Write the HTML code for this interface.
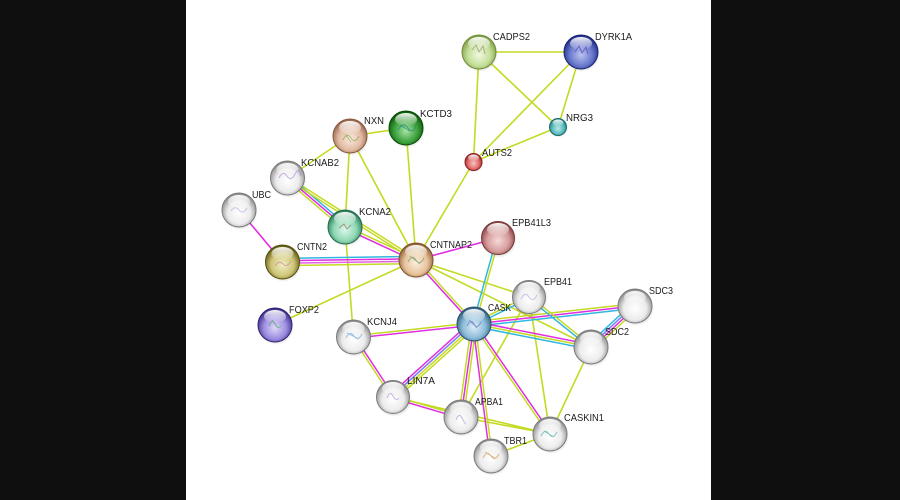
<!DOCTYPE html>
<html><head><meta charset="utf-8"><style>
html,body{margin:0;padding:0;background:#0f0f0f;}
body{width:900px;height:500px;overflow:hidden;position:relative;}
#w{position:absolute;left:186px;top:0;width:525px;height:500px;background:#fff;}
svg{position:absolute;left:0;top:0;}
text{font-family:"Liberation Sans",Arial,sans-serif;font-size:10.5px;fill:#1c1c1c;}
</style></head><body>
<div id="w"></div>
<svg width="900" height="500" viewBox="0 0 900 500" xmlns="http://www.w3.org/2000/svg">
<defs>
<radialGradient id="gLG" cx="0.5" cy="0.58" r="0.56"><stop offset="0" stop-color="#f1f8e2"/><stop offset="0.6" stop-color="#c4df98"/><stop offset="1" stop-color="#7f9c45"/></radialGradient>
<radialGradient id="gNV" cx="0.5" cy="0.58" r="0.56"><stop offset="0" stop-color="#bcc4f2"/><stop offset="0.6" stop-color="#6a78cc"/><stop offset="1" stop-color="#1e2c88"/></radialGradient>
<radialGradient id="gTL" cx="0.5" cy="0.58" r="0.56"><stop offset="0" stop-color="#bdeaea"/><stop offset="0.6" stop-color="#5cbcbc"/><stop offset="1" stop-color="#1e7e80"/></radialGradient>
<radialGradient id="gRD" cx="0.5" cy="0.58" r="0.56"><stop offset="0" stop-color="#f8c4c4"/><stop offset="0.6" stop-color="#e06a6a"/><stop offset="1" stop-color="#9a2424"/></radialGradient>
<radialGradient id="gMV" cx="0.5" cy="0.58" r="0.56"><stop offset="0" stop-color="#f6dada"/><stop offset="0.6" stop-color="#d69c9c"/><stop offset="1" stop-color="#884040"/></radialGradient>
<radialGradient id="gTN" cx="0.5" cy="0.58" r="0.56"><stop offset="0" stop-color="#faeadf"/><stop offset="0.6" stop-color="#e2bca4"/><stop offset="1" stop-color="#966448"/></radialGradient>
<radialGradient id="gGR" cx="0.5" cy="0.58" r="0.56"><stop offset="0" stop-color="#a8e4a8"/><stop offset="0.6" stop-color="#3ea23e"/><stop offset="1" stop-color="#0a5a0a"/></radialGradient>
<radialGradient id="gMT" cx="0.5" cy="0.58" r="0.56"><stop offset="0" stop-color="#dcf7ec"/><stop offset="0.6" stop-color="#8ed8b4"/><stop offset="1" stop-color="#2a7a58"/></radialGradient>
<radialGradient id="gOL" cx="0.5" cy="0.58" r="0.56"><stop offset="0" stop-color="#f2eec6"/><stop offset="0.6" stop-color="#cfc578"/><stop offset="1" stop-color="#5e5810"/></radialGradient>
<radialGradient id="gT2" cx="0.5" cy="0.58" r="0.56"><stop offset="0" stop-color="#fcefe0"/><stop offset="0.6" stop-color="#e8c49c"/><stop offset="1" stop-color="#8e5e34"/></radialGradient>
<radialGradient id="gPU" cx="0.5" cy="0.58" r="0.56"><stop offset="0" stop-color="#e0d8f8"/><stop offset="0.6" stop-color="#9c8ce0"/><stop offset="1" stop-color="#3a2a88"/></radialGradient>
<radialGradient id="gLB" cx="0.5" cy="0.58" r="0.56"><stop offset="0" stop-color="#e0eef7"/><stop offset="0.6" stop-color="#8cbcd8"/><stop offset="1" stop-color="#2e5e7e"/></radialGradient>
<radialGradient id="gWH" cx="0.5" cy="0.58" r="0.56"><stop offset="0" stop-color="#ffffff"/><stop offset="0.6" stop-color="#ececec"/><stop offset="1" stop-color="#8a8a8a"/></radialGradient>
<linearGradient id="hl" x1="0" y1="0" x2="0" y2="1"><stop offset="0" stop-color="#fff" stop-opacity="0.95"/><stop offset="1" stop-color="#fff" stop-opacity="0.05"/></linearGradient>
<radialGradient id="sh" cx="0.5" cy="0.5" r="0.5"><stop offset="0.7" stop-color="#000" stop-opacity="0.18"/><stop offset="1" stop-color="#000" stop-opacity="0"/></radialGradient>
</defs>

<!-- single edges -->
<g stroke-width="1.6" fill="none" stroke="#c4da22">
<line x1="479" y1="52" x2="581" y2="52"/>
<line x1="479" y1="52" x2="558" y2="127"/>
<line x1="479" y1="52" x2="473.5" y2="162"/>
<line x1="581" y1="52" x2="558" y2="127"/>
<line x1="581" y1="52" x2="473.5" y2="162"/>
<line x1="558" y1="127" x2="473.5" y2="162"/>
<line x1="473.5" y1="162" x2="416" y2="260"/>
<line x1="350" y1="136" x2="406" y2="128"/>
<line x1="350" y1="136" x2="287.5" y2="178"/>
<line x1="350" y1="136" x2="345" y2="227"/>
<line x1="350" y1="136" x2="416" y2="260"/>
<line x1="406" y1="128" x2="416" y2="260"/>
<line x1="345" y1="227" x2="353.5" y2="337"/>
<line x1="275" y1="325" x2="416" y2="260"/>
<line x1="416" y1="260" x2="529" y2="297"/>
<line x1="416" y1="260" x2="591" y2="347"/>
<line x1="529" y1="297" x2="461" y2="417"/>
<line x1="529" y1="297" x2="550" y2="434"/>
<line x1="591" y1="347" x2="550" y2="434"/>
<line x1="491" y1="456" x2="550" y2="434"/>
<line x1="393" y1="397" x2="550" y2="434"/>
<line x1="461" y1="417" x2="550" y2="434"/>
<line x1="239" y1="210" x2="282.5" y2="262" stroke="#e02ee0"/>
<line x1="416" y1="260" x2="498" y2="238" stroke="#e02ee0"/>
</g>

<!-- multi edges -->
<g stroke-width="1.5" fill="none">
<g transform="translate(287.5 178) rotate(40.43)"><line x1="0" y1="-2.4" x2="75.5" y2="-2.4" stroke="#30b8e0"/><line x1="0" y1="0" x2="75.5" y2="0" stroke="#e02ee0"/><line x1="0" y1="2.4" x2="75.5" y2="2.4" stroke="#c4da22"/></g>
<g transform="translate(287.5 178) rotate(32.54)"><line x1="0" y1="-1.2" x2="152.4" y2="-1.2" stroke="#c4da22"/><line x1="0" y1="1.2" x2="152.4" y2="1.2" stroke="#c4da22"/></g>
<g transform="translate(345 227) rotate(24.93)"><line x1="0" y1="-1.2" x2="78.3" y2="-1.2" stroke="#c4da22"/><line x1="0" y1="1.4" x2="78.3" y2="1.4" stroke="#e02ee0"/></g>
<g transform="translate(282.5 262) rotate(-0.86)"><line x1="0" y1="-3.6" x2="133.5" y2="-3.6" stroke="#30b8e0"/><line x1="0" y1="-1.2" x2="133.5" y2="-1.2" stroke="#e02ee0"/><line x1="0" y1="1.2" x2="133.5" y2="1.2" stroke="#e860e8"/><line x1="0" y1="3.6" x2="133.5" y2="3.6" stroke="#c4da22"/></g>
<g transform="translate(416 260) rotate(47.8)"><line x1="0" y1="1.2" x2="86.4" y2="1.2" stroke="#e02ee0"/><line x1="0" y1="-1.2" x2="86.4" y2="-1.2" stroke="#c4da22"/></g>
<g transform="translate(498 238) rotate(105.6)"><line x1="0" y1="1.2" x2="89.3" y2="1.2" stroke="#30b8e0"/><line x1="0" y1="-1.2" x2="89.3" y2="-1.2" stroke="#c4da22"/></g>
<g transform="translate(474 324) rotate(-26.15)"><line x1="0" y1="-1.2" x2="61.3" y2="-1.2" stroke="#c4da22"/><line x1="0" y1="1.2" x2="61.3" y2="1.2" stroke="#30b8e0"/></g>
<g transform="translate(474 324) rotate(-6.38)"><line x1="0" y1="-2.4" x2="162" y2="-2.4" stroke="#c4da22"/><line x1="0" y1="0" x2="162" y2="0" stroke="#e02ee0"/><line x1="0" y1="2.4" x2="162" y2="2.4" stroke="#30b8e0"/></g>
<g transform="translate(474 324) rotate(11.12)"><line x1="0" y1="-2.4" x2="119.2" y2="-2.4" stroke="#e02ee0"/><line x1="0" y1="0" x2="119.2" y2="0" stroke="#c4da22"/><line x1="0" y1="2.4" x2="119.2" y2="2.4" stroke="#30b8e0"/></g>
<g transform="translate(529 297) rotate(38.88)"><line x1="0" y1="-1.2" x2="79.6" y2="-1.2" stroke="#c4da22"/><line x1="0" y1="1.2" x2="79.6" y2="1.2" stroke="#30b8e0"/></g>
<g transform="translate(635 306) rotate(137)"><line x1="0" y1="-3.6" x2="60.1" y2="-3.6" stroke="#c4da22"/><line x1="0" y1="-1.2" x2="60.1" y2="-1.2" stroke="#e02ee0"/><line x1="0" y1="1.2" x2="60.1" y2="1.2" stroke="#7a7aff"/><line x1="0" y1="3.6" x2="60.1" y2="3.6" stroke="#30b8e0"/></g>
<g transform="translate(474 324) rotate(55.36)"><line x1="0" y1="-1.2" x2="133.7" y2="-1.2" stroke="#e02ee0"/><line x1="0" y1="1.2" x2="133.7" y2="1.2" stroke="#c4da22"/></g>
<g transform="translate(474 324) rotate(82.66)"><line x1="0" y1="1.2" x2="133.1" y2="1.2" stroke="#e02ee0"/><line x1="0" y1="-1.2" x2="133.1" y2="-1.2" stroke="#c4da22"/></g>
<g transform="translate(474 324) rotate(97.96)"><line x1="0" y1="-2.4" x2="93.9" y2="-2.4" stroke="#c4da22"/><line x1="0" y1="0" x2="93.9" y2="0" stroke="#e02ee0"/><line x1="0" y1="2.4" x2="93.9" y2="2.4" stroke="#c4da22"/></g>
<g transform="translate(474 324) rotate(137.98)"><line x1="0" y1="3.6" x2="109" y2="3.6" stroke="#e02ee0"/><line x1="0" y1="1.2" x2="109" y2="1.2" stroke="#7a7aff"/><line x1="0" y1="-1.2" x2="109" y2="-1.2" stroke="#c4da22"/><line x1="0" y1="-3.6" x2="109" y2="-3.6" stroke="#c4da22"/></g>
<g transform="translate(474 324) rotate(173.84)"><line x1="0" y1="1.2" x2="121.2" y2="1.2" stroke="#c4da22"/><line x1="0" y1="-1.2" x2="121.2" y2="-1.2" stroke="#e02ee0"/></g>
<g transform="translate(353.5 337) rotate(56.64)"><line x1="0" y1="1.2" x2="71.8" y2="1.2" stroke="#c4da22"/><line x1="0" y1="-1.2" x2="71.8" y2="-1.2" stroke="#e02ee0"/></g>
<g transform="translate(393 397) rotate(16.39)"><line x1="0" y1="-1.2" x2="70.9" y2="-1.2" stroke="#c4da22"/><line x1="0" y1="1.2" x2="70.9" y2="1.2" stroke="#e02ee0"/></g>
</g>

<!-- nodes -->
<g id="nodes">
<g transform="translate(479 52)"><circle cx="1" cy="2" r="18" fill="url(#sh)"/><circle r="17" fill="url(#gLG)" stroke="#6f8c3a" stroke-width="1"/><ellipse cx="0" cy="-8.5" rx="11" ry="6.5" fill="url(#hl)"/></g>
<g transform="translate(581 52)"><circle cx="1" cy="2" r="18" fill="url(#sh)"/><circle r="17" fill="url(#gNV)" stroke="#18226e" stroke-width="1"/><ellipse cx="0" cy="-8.5" rx="11" ry="6.5" fill="url(#hl)"/></g>
<g transform="translate(558 127)"><circle cx="0.5" cy="1" r="9.5" fill="url(#sh)"/><circle r="8.5" fill="url(#gTL)" stroke="#1a6a6c" stroke-width="1"/><ellipse cx="0" cy="-4.2" rx="5.5" ry="3.3" fill="url(#hl)"/></g>
<g transform="translate(473.5 162)"><circle cx="0.5" cy="1" r="9.5" fill="url(#sh)"/><circle r="8.5" fill="url(#gRD)" stroke="#8a1e1e" stroke-width="1"/><ellipse cx="0" cy="-4.2" rx="5.5" ry="3.3" fill="url(#hl)"/></g>
<g transform="translate(498 238)"><circle cx="1" cy="2" r="18" fill="url(#sh)"/><circle r="16.5" fill="url(#gMV)" stroke="#763636" stroke-width="1"/><ellipse cx="0" cy="-8.5" rx="11" ry="6.5" fill="url(#hl)"/></g>
<g transform="translate(350 136)"><circle cx="1" cy="2" r="18" fill="url(#sh)"/><circle r="17" fill="url(#gTN)" stroke="#86583c" stroke-width="1"/><ellipse cx="0" cy="-8.5" rx="11" ry="6.5" fill="url(#hl)"/></g>
<g transform="translate(406 128)"><circle cx="1" cy="2" r="18" fill="url(#sh)"/><circle r="17" fill="url(#gGR)" stroke="#084a08" stroke-width="1"/><ellipse cx="0" cy="-8.5" rx="11" ry="6.5" fill="url(#hl)"/></g>
<g transform="translate(287.5 178)"><circle cx="1" cy="2" r="18" fill="url(#sh)"/><circle r="17" fill="url(#gWH)" stroke="#7a7a7a" stroke-width="1"/><ellipse cx="0" cy="-8.5" rx="11" ry="6.5" fill="url(#hl)"/></g>
<g transform="translate(239 210)"><circle cx="1" cy="2" r="18" fill="url(#sh)"/><circle r="17" fill="url(#gWH)" stroke="#7a7a7a" stroke-width="1"/><ellipse cx="0" cy="-8.5" rx="11" ry="6.5" fill="url(#hl)"/></g>
<g transform="translate(345 227)"><circle cx="1" cy="2" r="18" fill="url(#sh)"/><circle r="17" fill="url(#gMT)" stroke="#236a4c" stroke-width="1"/><ellipse cx="0" cy="-8.5" rx="11" ry="6.5" fill="url(#hl)"/></g>
<g transform="translate(282.5 262)"><circle cx="1" cy="2" r="18" fill="url(#sh)"/><circle r="17" fill="url(#gOL)" stroke="#55500c" stroke-width="1"/><ellipse cx="0" cy="-8.5" rx="11" ry="6.5" fill="url(#hl)"/></g>
<g transform="translate(416 260)"><circle cx="1" cy="2" r="18" fill="url(#sh)"/><circle r="17" fill="url(#gT2)" stroke="#7e5230" stroke-width="1"/><ellipse cx="0" cy="-8.5" rx="11" ry="6.5" fill="url(#hl)"/></g>
<g transform="translate(275 325)"><circle cx="1" cy="2" r="18" fill="url(#sh)"/><circle r="17" fill="url(#gPU)" stroke="#30226e" stroke-width="1"/><ellipse cx="0" cy="-8.5" rx="11" ry="6.5" fill="url(#hl)"/></g>
<g transform="translate(353.5 337)"><circle cx="1" cy="2" r="18" fill="url(#sh)"/><circle r="17" fill="url(#gWH)" stroke="#7a7a7a" stroke-width="1"/><ellipse cx="0" cy="-8.5" rx="11" ry="6.5" fill="url(#hl)"/></g>
<g transform="translate(393 397)"><circle cx="1" cy="2" r="18" fill="url(#sh)"/><circle r="16.5" fill="url(#gWH)" stroke="#7a7a7a" stroke-width="1"/><ellipse cx="0" cy="-8.5" rx="11" ry="6.5" fill="url(#hl)"/></g>
<g transform="translate(474 324)"><circle cx="1" cy="2" r="18" fill="url(#sh)"/><circle r="17" fill="url(#gLB)" stroke="#28506c" stroke-width="1"/><ellipse cx="0" cy="-8.5" rx="11" ry="6.5" fill="url(#hl)"/></g>
<g transform="translate(529 297)"><circle cx="1" cy="2" r="18" fill="url(#sh)"/><circle r="16.5" fill="url(#gWH)" stroke="#7a7a7a" stroke-width="1"/><ellipse cx="0" cy="-8.5" rx="11" ry="6.5" fill="url(#hl)"/></g>
<g transform="translate(635 306)"><circle cx="1" cy="2" r="18" fill="url(#sh)"/><circle r="17" fill="url(#gWH)" stroke="#7a7a7a" stroke-width="1"/><ellipse cx="0" cy="-8.5" rx="11" ry="6.5" fill="url(#hl)"/></g>
<g transform="translate(591 347)"><circle cx="1" cy="2" r="18" fill="url(#sh)"/><circle r="17" fill="url(#gWH)" stroke="#7a7a7a" stroke-width="1"/><ellipse cx="0" cy="-8.5" rx="11" ry="6.5" fill="url(#hl)"/></g>
<g transform="translate(461 417)"><circle cx="1" cy="2" r="18" fill="url(#sh)"/><circle r="17" fill="url(#gWH)" stroke="#7a7a7a" stroke-width="1"/><ellipse cx="0" cy="-8.5" rx="11" ry="6.5" fill="url(#hl)"/></g>
<g transform="translate(550 434)"><circle cx="1" cy="2" r="18" fill="url(#sh)"/><circle r="17" fill="url(#gWH)" stroke="#7a7a7a" stroke-width="1"/><ellipse cx="0" cy="-8.5" rx="11" ry="6.5" fill="url(#hl)"/></g>
<g transform="translate(491 456)"><circle cx="1" cy="2" r="18" fill="url(#sh)"/><circle r="17" fill="url(#gWH)" stroke="#7a7a7a" stroke-width="1"/><ellipse cx="0" cy="-8.5" rx="11" ry="6.5" fill="url(#hl)"/></g>
</g>

<!-- faint structure scribbles -->
<g fill="none" stroke-width="1" opacity="0.55">
<path d="M472 50 l4 -5 l3 7 l4 -6 l2 8" stroke="#8a7a60"/>
<path d="M575 52 l4 -6 l3 7 l4 -6 l2 7" stroke="#4030a0"/>
<path d="M343 140 q4 -8 8 -2 t8 -2 M345 134 l6 8" stroke="#6a9a30"/>
<path d="M398 130 q5 -9 10 -2 t8 -3 M400 125 l10 6" stroke="#0a7a7a"/>
<path d="M279 178 q4 -8 8 -2 t8 -2 t6 2" stroke="#a070d8"/>
<path d="M231 211 q4 -6 8 -1 t8 -2" stroke="#b090e0"/>
<path d="M339 228 l5 -4 l3 5 l4 -4" stroke="#8a5a30"/>
<path d="M275 266 q4 -6 8 -2 t8 -3" stroke="#c07090"/>
<path d="M408 262 q4 -8 8 -2 t8 -2 M410 256 l10 8" stroke="#4a8a50"/>
<path d="M269 326 q3 -8 6 -2 t6 2 M272 320 l6 8" stroke="#30a050"/>
<path d="M346 338 q4 -8 8 -2 t8 -2 M347 333 l12 6" stroke="#5a9ad0"/>
<path d="M387 398 q3 -8 6 -2 t6 2" stroke="#a080d0"/>
<path d="M467 326 q4 -8 7 -2 t7 -2 M469 320 l8 8" stroke="#5060c0"/>
<path d="M521 299 q4 -8 8 -2 t8 -2" stroke="#b090e0"/>
<path d="M456 420 q3 -8 6 -2 t4 6" stroke="#a080d0"/>
<path d="M541 436 q4 -8 8 -2 t8 -2 M544 431 l10 6" stroke="#30a090"/>
<path d="M483 458 q4 -8 8 -2 t8 -2 M485 452 l10 6" stroke="#d08030"/>
</g>

<!-- labels -->
<g>
<text x="493" y="40" textLength="37" lengthAdjust="spacingAndGlyphs">CADPS2</text>
<text x="595" y="40" textLength="37" lengthAdjust="spacingAndGlyphs">DYRK1A</text>
<text x="566" y="121" textLength="27" lengthAdjust="spacingAndGlyphs">NRG3</text>
<text x="482" y="156" textLength="30" lengthAdjust="spacingAndGlyphs">AUTS2</text>
<text x="512" y="226" textLength="39" lengthAdjust="spacingAndGlyphs">EPB41L3</text>
<text x="364" y="124" textLength="20" lengthAdjust="spacingAndGlyphs">NXN</text>
<text x="420" y="117" textLength="32" lengthAdjust="spacingAndGlyphs">KCTD3</text>
<text x="301" y="166" textLength="38" lengthAdjust="spacingAndGlyphs">KCNAB2</text>
<text x="252" y="198" textLength="19" lengthAdjust="spacingAndGlyphs">UBC</text>
<text x="359" y="215" textLength="32" lengthAdjust="spacingAndGlyphs">KCNA2</text>
<text x="297" y="250" textLength="30" lengthAdjust="spacingAndGlyphs">CNTN2</text>
<text x="430" y="248" textLength="42" lengthAdjust="spacingAndGlyphs">CNTNAP2</text>
<text x="289" y="313" textLength="30" lengthAdjust="spacingAndGlyphs">FOXP2</text>
<text x="367" y="325" textLength="30" lengthAdjust="spacingAndGlyphs">KCNJ4</text>
<text x="407" y="384" textLength="28" lengthAdjust="spacingAndGlyphs">LIN7A</text>
<text x="488" y="311" textLength="23" lengthAdjust="spacingAndGlyphs">CASK</text>
<text x="544" y="285" textLength="28" lengthAdjust="spacingAndGlyphs">EPB41</text>
<text x="649" y="294" textLength="24" lengthAdjust="spacingAndGlyphs">SDC3</text>
<text x="605" y="335" textLength="24" lengthAdjust="spacingAndGlyphs">SDC2</text>
<text x="475" y="405" textLength="28" lengthAdjust="spacingAndGlyphs">APBA1</text>
<text x="564" y="421" textLength="40" lengthAdjust="spacingAndGlyphs">CASKIN1</text>
<text x="504" y="444" textLength="23" lengthAdjust="spacingAndGlyphs">TBR1</text>
</g>
</svg>
</body></html>
